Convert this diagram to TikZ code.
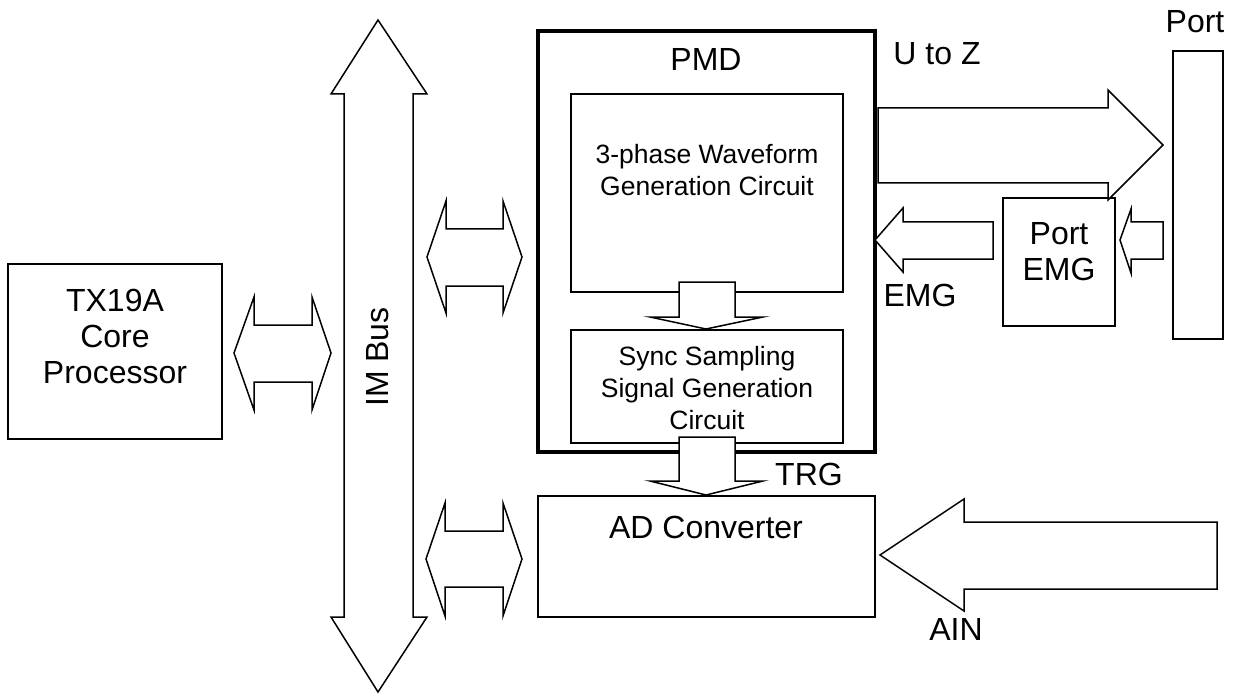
\documentclass[tikz,border=0pt]{standalone}
\usepackage{fontspec}
\setmainfont{Liberation Sans}
\begin{document}
\begin{tikzpicture}[x=1pt,y=-1pt,line join=miter,
  box/.style={draw,line width=1.5pt,inner sep=0pt,outer sep=0pt,rectangle},
  thickbox/.style={draw,line width=3.5pt,inner sep=0pt,outer sep=0pt,rectangle},
  barrow/.style={draw,fill=white,line width=1.5pt},
  bigtxt/.style={font=\fontsize{32}{36}\selectfont,align=center,inner sep=0pt},
  smalltxt/.style={font=\fontsize{26.5}{32}\selectfont,align=center,inner sep=0pt}]
\useasboundingbox (0,0) rectangle (1234,695);

% boxes
\node[box,minimum width=214pt,minimum height=175pt] (tx) at (115,351.5) {};
\node[thickbox,minimum width=337pt,minimum height=421pt] (pmd) at (706.5,241.5) {};
\node[box,minimum width=272pt,minimum height=198pt] (wave) at (707,193) {};
\node[box,minimum width=272pt,minimum height=113pt] (sync) at (707,386.5) {};
\node[box,minimum width=337pt,minimum height=121pt] (adc) at (706.5,556.5) {};
\node[box,minimum width=50pt,minimum height=288pt] (port) at (1198,195) {};
\node[box,minimum width=112pt,minimum height=128pt] (pemg) at (1059,262) {};

% IM bus
\draw[barrow] (378,20) -- (427,94) -- (413,94) -- (413,617) -- (427,617) -- (378,692)
  -- (331,617) -- (344,617) -- (344,94) -- (331,94) -- cycle;

% double arrows
\draw[barrow] (234,353) -- (254,297) -- (254,325) -- (312,325) -- (312,297) -- (331,353)
  -- (312,410) -- (312,382) -- (254,382) -- (254,410) -- cycle;
\draw[barrow] (427,257) -- (446,201) -- (446,229) -- (503,229) -- (503,201) -- (522,257)
  -- (503,313) -- (503,286) -- (446,286) -- (446,313) -- cycle;
\draw[barrow] (426,559) -- (445,503) -- (445,531) -- (503,531) -- (503,503) -- (522,559)
  -- (503,616) -- (503,587) -- (445,587) -- (445,616) -- cycle;

% down arrows
\draw[barrow] (679,282) -- (735,282) -- (735,317) -- (763,317) -- (706,329) -- (650,317)
  -- (679,317) -- cycle;
\draw[barrow] (679,437) -- (735,437) -- (735,481) -- (763,481) -- (706,495) -- (650,481)
  -- (679,481) -- cycle;

% right side arrows
\draw[barrow] (878,108) -- (1108,108) -- (1108,90) -- (1163,145) -- (1108,200)
  -- (1108,183) -- (878,183) -- cycle;
\draw[barrow] (875,240) -- (903,208) -- (903,222) -- (993,222) -- (993,259)
  -- (903,259) -- (903,272) -- cycle;
\draw[barrow] (1120,240) -- (1131,209) -- (1131,222) -- (1163,222) -- (1163,259)
  -- (1131,259) -- (1131,273) -- cycle;
\draw[barrow] (880,555) -- (964,499) -- (964,522) -- (1217,522) -- (1217,589)
  -- (964,589) -- (964,611) -- cycle;

% texts
\node[bigtxt] (txt) at (115,336) {TX19A\\Core\\Processor};
\node[bigtxt,rotate=90] (imbus) at (378,357) {IM Bus};
\node[bigtxt] (pmdl) at (706,59) {PMD};
\node[smalltxt] (wavel) at (707,170.5) {3-phase Waveform\\Generation Circuit};
\node[smalltxt] (syncl) at (707,388.5) {Sync Sampling\\Signal Generation\\Circuit};
\node[bigtxt] (adcl) at (706,527) {AD Converter};
\node[bigtxt] (trgl) at (809,474) {TRG};
\node[bigtxt] (ainl) at (956,629) {AIN};
\node[bigtxt] (uzl) at (937,54) {U to Z};
\node[bigtxt] (emgl) at (920,295) {EMG};
\node[bigtxt] (portl) at (1195,22) {Port};
\node[bigtxt] (pemgl) at (1059,251.5) {Port\\EMG};
\end{tikzpicture}
\end{document}
